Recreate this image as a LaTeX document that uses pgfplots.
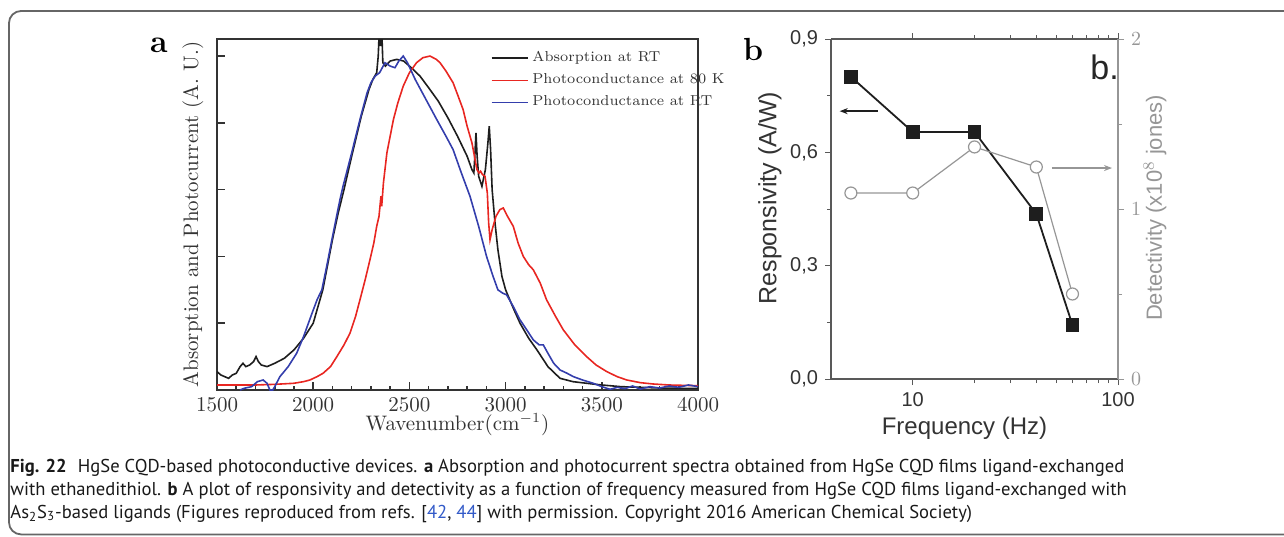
\documentclass[border=0pt]{standalone}
\usepackage{fontspec}
\usepackage{pgfplots}
\pgfplotsset{compat=1.18}
\usetikzlibrary{arrows.meta}
\newfontfamily\arial{Liberation Sans}
\newfontfamily\capfont{PT Sans}
\definecolor{cred}{RGB}{232,38,33}
\definecolor{cblue}{RGB}{52,62,172}
\definecolor{cblack}{RGB}{30,30,30}
\definecolor{cgray}{RGB}{150,150,150}
\definecolor{refblue}{RGB}{50,90,200}
\begin{document}
\begin{tikzpicture}
\useasboundingbox (0,0) rectangle (642pt,-268pt);
\draw[black!60, line width=0.9pt, rounded corners=6pt] (660pt,-5.5pt) -- (4.5pt,-5.5pt) -- (4.5pt,-267.2pt) -- (660pt,-267.2pt);

% ---------------- panel a ----------------
\begin{axis}[at={(108.5pt,-19.5pt)}, anchor=north west, scale only axis,
  width=240.5pt, height=175.5pt,
  xmin=1500, xmax=4000, ymin=0, ymax=1.051,
  xtick={1500,2000,2500,3000,3500,4000}, minor x tick num=4,
  ytick={0.2,0.4,0.6,0.8,1.0}, yticklabels={},
  xtick pos=bottom, ytick pos=left, tick align=inside,
  major tick length=4pt, minor tick length=2pt,
  axis line style={line width=1pt, black!80},
  tick style={line width=0.8pt, black!80},
  xticklabel style={font=\fontsize{10.5}{12}\selectfont, text=black!80},
  /pgf/number format/assume math mode=true,
  /pgf/number format/set thousands separator={},
  xlabel={Wavenumber(cm$^{-1}$)},
  ylabel={Absorption and Photocurrent (A. U.)},
  xlabel style={at={(axis description cs:0.5,0)}, anchor=center, yshift=-17.5pt, font=\fontsize{10.5}{12}\selectfont, text=black!80},
  ylabel style={at={(axis description cs:-0.05,0.5)}, anchor=center, font=\fontsize{10.5}{12}\selectfont, text=black!80},
  legend style={at={(rel axis cs:0.556,0.988)}, anchor=north west, draw=none, fill=none,
    font=\fontsize{7.2}{8}\selectfont, text=black!80, row sep=0.5pt},
  legend cell align=left,
  legend image code/.code={\draw[#1] (0pt,0pt) -- (18pt,0pt);},
]
\addplot[cblack, line width=0.8pt] coordinates {
(1500,0.055) (1520,0.045) (1540,0.04) (1560,0.035) (1580,0.045) (1600,0.05) (1620,0.07) (1635,0.08) (1650,0.07) (1670,0.075) (1690,0.085) (1703,0.10) (1715,0.085) (1730,0.075) (1760,0.07) (1800,0.08) (1850,0.095) (1900,0.12) (1950,0.155) (2000,0.20) (2050,0.30) (2070,0.36) (2100,0.45) (2130,0.53) (2160,0.60) (2200,0.70) (2250,0.82) (2290,0.90) (2310,0.93) (2330,0.95) (2338,1.0) (2345,1.1) (2350,1.03) (2355,1.1) (2362,0.98) (2375,0.97) (2400,0.985) (2434,0.99) (2470,0.985) (2510,0.965) (2555,0.94) (2600,0.905) (2650,0.865) (2700,0.815) (2750,0.76) (2800,0.70) (2825,0.66) (2835,0.65) (2840,0.70) (2846,0.77) (2852,0.70) (2860,0.64) (2877,0.61) (2895,0.66) (2908,0.74) (2915,0.79) (2922,0.72) (2930,0.60) (2945,0.50) (2960,0.42) (2981,0.34) (3000,0.30) (3040,0.245) (3075,0.20) (3120,0.155) (3163,0.12) (3220,0.07) (3283,0.035) (3350,0.025) (3423,0.02) (3500,0.015) (3600,0.01) (3700,0.008) (3800,0.006) (3900,0.005) (4000,0.005)
};
\addlegendentry{Absorption at RT}
\addplot[cred, line width=0.8pt] coordinates {
(1500,0.015) (1600,0.015) (1700,0.015) (1800,0.017) (1897,0.02) (1950,0.025) (1983,0.03) (2020,0.04) (2051,0.05) (2090,0.07) (2123,0.10) (2160,0.135) (2191,0.17) (2220,0.22) (2243,0.27) (2270,0.33) (2295,0.39) (2315,0.44) (2330,0.49) (2342,0.52) (2347,0.55) (2352,0.58) (2356,0.55) (2365,0.62) (2383,0.71) (2417,0.81) (2440,0.86) (2468,0.91) (2500,0.95) (2537,0.98) (2570,0.995) (2607,1.0) (2640,0.99) (2659,0.98) (2690,0.955) (2727,0.92) (2750,0.885) (2779,0.84) (2800,0.79) (2825,0.74) (2851,0.66) (2862,0.65) (2870,0.655) (2880,0.645) (2893,0.64) (2905,0.59) (2912,0.50) (2919,0.45) (2930,0.48) (2950,0.52) (2970,0.54) (2988,0.545) (3010,0.52) (3040,0.49) (3065,0.44) (3092,0.40) (3120,0.375) (3144,0.36) (3180,0.32) (3213,0.27) (3260,0.22) (3300,0.18) (3360,0.135) (3421,0.10) (3470,0.075) (3526,0.055) (3580,0.04) (3630,0.03) (3700,0.022) (3767,0.018) (3850,0.015) (3920,0.014) (4000,0.013)
};
\addlegendentry{Photoconductance at 80 K}
\addplot[cblue, line width=0.8pt] coordinates {
(1620,0.0) (1640,0.005) (1680,0.01) (1710,0.025) (1740,0.03) (1760,0.02) (1775,0.0) (1790,0.0) (1800,0.01) (1827,0.04) (1870,0.07) (1914,0.11) (1950,0.16) (1994,0.23) (2020,0.27) (2045,0.30) (2070,0.37) (2104,0.47) (2139,0.57) (2155,0.61) (2200,0.71) (2243,0.81) (2280,0.89) (2300,0.92) (2322,0.94) (2345,0.95) (2373,0.98) (2400,0.97) (2425,0.965) (2445,0.985) (2468,1.0) (2490,0.98) (2530,0.93) (2572,0.885) (2600,0.855) (2642,0.81) (2690,0.76) (2727,0.72) (2770,0.65) (2815,0.58) (2860,0.49) (2901,0.40) (2935,0.34) (2960,0.30) (2985,0.29) (3005,0.285) (3040,0.25) (3075,0.21) (3110,0.18) (3144,0.15) (3175,0.135) (3196,0.135) (3220,0.11) (3250,0.08) (3283,0.06) (3320,0.05) (3352,0.04) (3400,0.03) (3456,0.02) (3500,0.01) (3543,0.002) (3580,0.008) (3620,0.004) (3660,0.012) (3700,0.003) (3750,0.01) (3800,0.006) (3850,0.012) (3900,0.008) (3950,0.015) (4000,0.01)
};
\addlegendentry{Photoconductance at RT}
\end{axis}

% ---------------- panel b ----------------
\begin{axis}[at={(415.5pt,-19.5pt)}, anchor=north west, scale only axis,
  width=143.5pt, height=170pt,
  xmode=log, xmin=4, xmax=100, ymin=0, ymax=0.9,
  axis y line*=left,
  xtick={10,100}, xticklabels={10,100},
  ytick={0,0.3,0.6,0.9}, yticklabels={{0,0},{0,3},{0,6},{0,9}},
  minor ytick={0.15,0.45,0.75},
  tick align=outside, major tick length=3pt, minor tick length=2pt,
  axis line style={line width=0.6pt, black!65},
  tick style={line width=0.5pt, black!65},
  tick label style={font=\arial\fontsize{10}{12}\selectfont, text=black!80},
  xlabel={Frequency (Hz)}, ylabel={Responsivity (A/W)},
  xlabel style={at={(axis description cs:0.5,0)}, anchor=center, yshift=-24.5pt, xshift=-5pt, font=\arial\fontsize{12}{14}\selectfont, text=black!80},
  ylabel style={at={(axis description cs:-0.2125,0.532)}, anchor=center, font=\arial\fontsize{12.5}{14}\selectfont, text=black!80},
]
\addplot[cblack, line width=0.9pt, mark=square*, mark size=3pt, mark options={solid, fill=cblack}] coordinates {
(5,0.80) (10,0.654) (20,0.654) (40,0.437) (60,0.143)
};
\draw[-{Stealth[length=4pt]}, line width=0.9pt, cblack] (axis cs:6.74,0.709) -- (axis cs:4.41,0.709);
\end{axis}
\begin{axis}[at={(415.5pt,-19.5pt)}, anchor=north west, scale only axis,
  width=143.5pt, height=170pt,
  xmode=log, xmin=4, xmax=100, ymin=0, ymax=2,
  axis y line*=right, axis x line=none,
  ytick={0,1,2}, minor ytick={0.5,1.5},
  tick align=outside, major tick length=3pt, minor tick length=2pt,
  axis line style={line width=0.6pt, cgray},
  tick style={line width=0.5pt, cgray},
  yticklabel style={font=\arial\fontsize{10}{12}\selectfont, text=cgray},
  ylabel={Detectivity (x10$^{8}$ jones)},
  ylabel style={at={(axis description cs:1.129,0.503)}, anchor=center, font=\arial\fontsize{11}{13}\selectfont, text=cgray},
]
\addplot[cgray, line width=0.6pt, mark=*, mark size=3pt, mark options={solid, fill=white, draw=cgray}] coordinates {
(5,1.094) (10,1.094) (20,1.365) (40,1.247) (60,0.50)
};
\draw[-{Stealth[length=4pt]}, line width=0.6pt, cgray] (axis cs:47.6,1.241) -- (axis cs:93.5,1.241);
\node[anchor=base east, inner sep=0pt, font=\arial\fontsize{17}{20}\selectfont, text=black!85] at (rel axis cs:1.004,0.88) {b.};
\end{axis}

% panel letters
\node[anchor=base west, font=\bfseries\fontsize{16}{18}\selectfont] at (71.5pt,-26pt) {a};
\node[anchor=base west, font=\bfseries\fontsize{16}{18}\selectfont] at (368pt,-30pt) {b};

% caption
\begin{scope}[every node/.style={anchor=base west, inner sep=0pt, font=\capfont\fontsize{9.3}{11}\selectfont, text=black!90}]
\node at (5pt,-236pt) {\textbf{Fig. 22}\hspace{0.6em}HgSe CQD-based photoconductive devices. \textbf{a} Absorption and photocurrent spectra obtained from HgSe CQD films ligand-exchanged};
\node at (5pt,-247.5pt) {with ethanedithiol. \textbf{b} A plot of responsivity and detectivity as a function of frequency measured from HgSe CQD films ligand-exchanged with};
\node at (5pt,-259pt) {As\textsubscript{2}S\textsubscript{3}-based ligands (Figures reproduced from refs. [\textcolor{refblue}{42}, \textcolor{refblue}{44}] with permission. Copyright 2016 American Chemical Society)};
\end{scope}
\end{tikzpicture}
\end{document}
